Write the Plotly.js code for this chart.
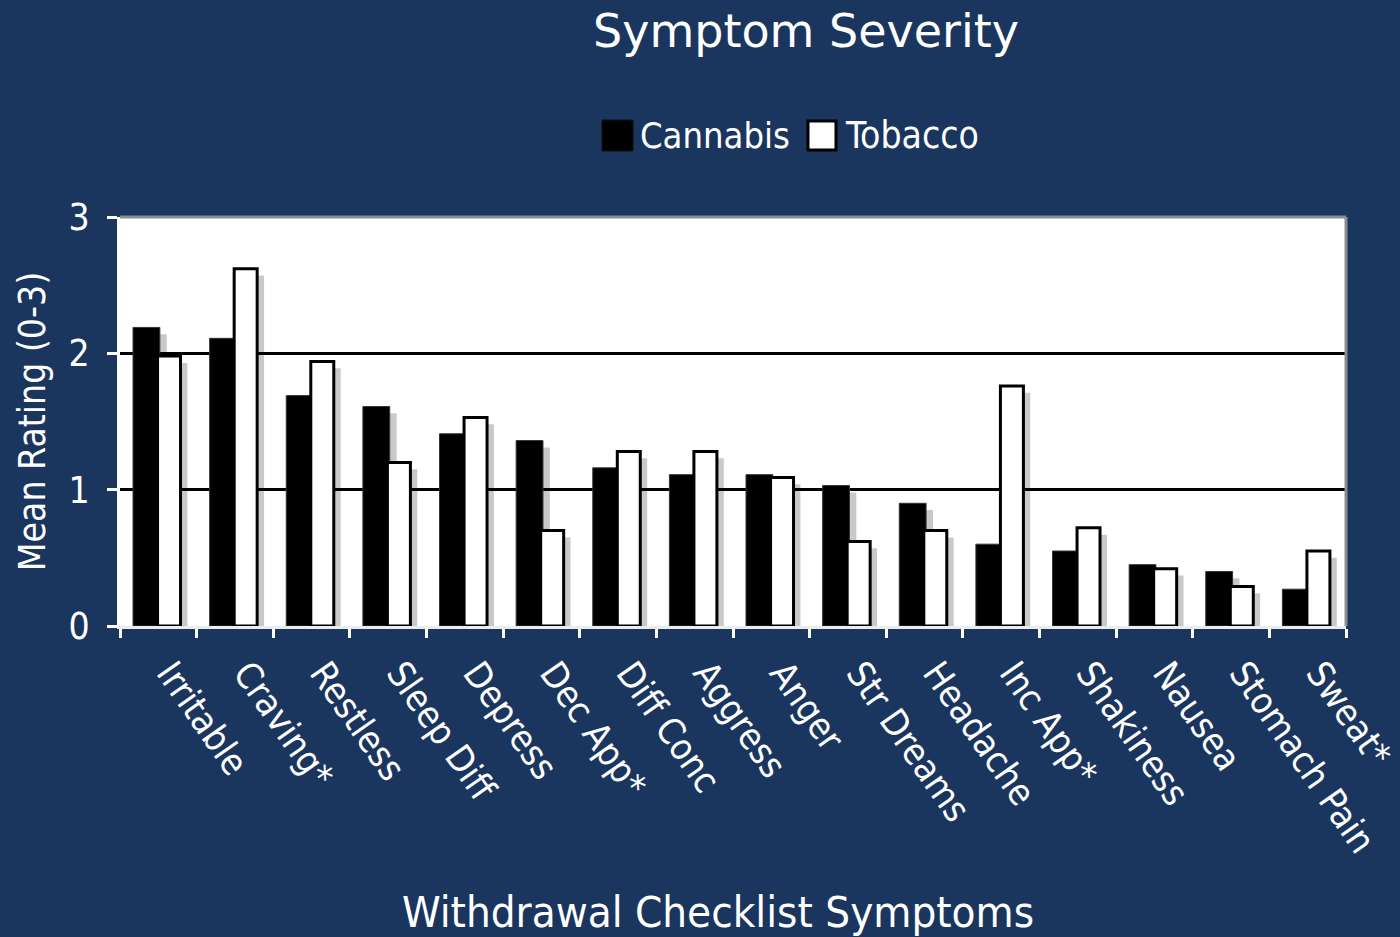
<!DOCTYPE html>
<html>
<head>
<meta charset="utf-8">
<script src="https://cdn.plot.ly/plotly-3.0.1.min.js"></script>
<style>
html,body{margin:0;padding:0;background:#1a365f;}
#chart{width:1400px;height:937px;}
</style>
</head>
<body>
<div id="chart"></div>
<script>
// ---- data ----
const categories = ['Irritable','Craving*','Restless','Sleep Diff','Depress','Dec App*','Diff Conc','Aggress','Anger','Str Dreams','Headache','Inc App*','Shakiness','Nausea','Stomach Pain','Sweat*'];
const cannabis = [2.19,2.11,1.69,1.61,1.41,1.36,1.16,1.11,1.11,1.03,0.90,0.60,0.55,0.45,0.40,0.27];
const tobacco  = [1.98,2.62,1.94,1.20,1.53,0.70,1.28,1.28,1.09,0.62,0.70,1.76,0.72,0.42,0.29,0.55];
const seriesNames = ['Cannabis','Tobacco'];
const yTicks = [0,1,2,3];

// ---- layout constants ----
const FONT = '"DejaVu Sans Condensed", "DejaVu Sans", sans-serif';
const FONT_WIDE = '"DejaVu Sans", sans-serif';
const BG = '#1a365f';
const L = 120, R = 1346, T = 217, B = 626;
const W = R - L, H = B - T;
const px = x => (x - L) / W;
const py = y => (B - y) / H;

const cOff = -0.33, cW = 0.35;
const tOff = -0.01, tW = 0.30;
const shShift = 0.09, shDrop = 0.05;
const shadowCol = 'rgba(0,0,0,0.21)';
const base = categories.map(() => -shDrop);

const traces = [
  {type:'bar', x:categories, y:cannabis, base:base, offset:cOff+shShift, width:cW,
   marker:{color:shadowCol, line:{width:0}}, showlegend:false, hoverinfo:'skip'},
  {type:'bar', x:categories, y:tobacco, base:base, offset:tOff+shShift, width:tW,
   marker:{color:shadowCol, line:{width:0}}, showlegend:false, hoverinfo:'skip'},
  {type:'bar', name:seriesNames[0], x:categories, y:cannabis, offset:cOff, width:cW,
   marker:{color:'#000000', line:{color:'#333333', width:1}}, showlegend:false},
  {type:'bar', name:seriesNames[1], x:categories, y:tobacco, offset:tOff, width:tW,
   marker:{color:'#ffffff', line:{color:'#000000', width:3}}, showlegend:false}
];

const layout = {
  width:1400, height:937,
  paper_bgcolor:BG, plot_bgcolor:'#ffffff',
  margin:{l:L, r:1400-R, t:T, b:937-B, pad:0},
  barmode:'overlay',
  font:{family:FONT, color:'#ffffff'},
  title:{text:'Symptom Severity', font:{family:FONT_WIDE, size:46, color:'#ffffff'},
         x:806/1400, xref:'container', xanchor:'center',
         y:1-31/937, yref:'container', yanchor:'middle'},
  xaxis:{
    type:'category', range:[-0.5, categories.length-0.5],
    tickson:'boundaries', ticks:'outside', ticklen:9, tickwidth:3, tickcolor:'#ffffff',
    tickangle:55, tickfont:{family:FONT, size:36.5, color:'#ffffff'},
    ticklabelshift:12, ticklabelstandoff:8,
    showline:true, linecolor:'#ececec', linewidth:3,
    showgrid:false, zeroline:false, fixedrange:true
  },
  yaxis:{
    range:[0,3], tickvals:yTicks, ticktext:yTicks.map(String),
    ticks:'outside', ticklen:10, tickwidth:3, tickcolor:'#ffffff',
    tickfont:{family:FONT, size:37, color:'#ffffff'}, ticklabelstandoff:10,
    showline:true, linecolor:'#ffffff', linewidth:3,
    showgrid:true, gridcolor:'#000000', gridwidth:2.5, zeroline:false,
    title:{text:'Mean Rating (0-3)', font:{family:FONT, size:37, color:'#ffffff'}, standoff:12},
    fixedrange:true
  },
  shapes:[
    // plot-frame shadow (top & right)
    {type:'line', xref:'paper', yref:'paper', x0:0, x1:1, y0:1, y1:1, line:{color:'#8c8c8c', width:3}},
    {type:'line', xref:'paper', yref:'paper', x0:1, x1:1, y0:0, y1:1, line:{color:'#8c8c8c', width:3}},
    // legend swatches
    {type:'rect', xref:'paper', yref:'paper', x0:px(602), x1:px(633), y0:py(151), y1:py(120),
     fillcolor:'#000000', line:{color:'#111111', width:1}},
    {type:'rect', xref:'paper', yref:'paper', x0:px(808), x1:px(836), y0:py(150), y1:py(121),
     fillcolor:'#ffffff', line:{color:'#000000', width:3}}
  ],
  annotations:[
    {text:seriesNames[0], xref:'paper', yref:'paper', x:px(638), y:py(136), xanchor:'left', yanchor:'middle',
     showarrow:false, font:{family:FONT, size:36, color:'#ffffff'}},
    {text:seriesNames[1], xref:'paper', yref:'paper', x:px(843), y:py(136), xanchor:'left', yanchor:'middle',
     showarrow:false, font:{family:FONT, size:37, color:'#ffffff'}},
    {text:'Withdrawal Checklist Symptoms', xref:'paper', yref:'paper', x:px(718), y:py(912),
     xanchor:'center', yanchor:'middle', showarrow:false, font:{family:FONT, size:43.5, color:'#ffffff'}}
  ]
};

Plotly.newPlot('chart', traces, layout, {displayModeBar:false, staticPlot:true});
</script>
</body>
</html>
